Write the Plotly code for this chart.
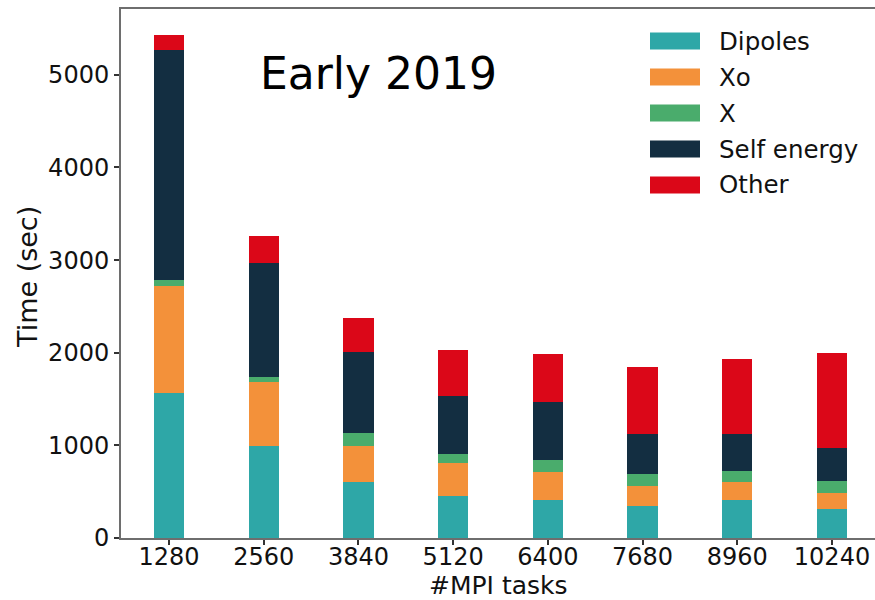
import plotly.graph_objects as go

# MPI task counts (x categories)
tasks = ["1280", "2560", "3840", "5120", "6400", "7680", "8960", "10240"]

# Time per component (sec), stacked bottom to top
dipoles = [1562, 995, 603, 453, 409, 345, 409, 312]
xo = [1164, 686, 388, 355, 302, 215, 194, 173]
x_part = [54, 54, 140, 97, 130, 130, 119, 129]
self_energy = [2489, 1239, 873, 625, 625, 431, 399, 356]
other = [162, 291, 367, 496, 517, 722, 808, 1024]

series_names = ["Dipoles", "Xo", "X", "Self energy", "Other"]
series_values = [dipoles, xo, x_part, self_energy, other]
series_colors = ["#2ea7a7", "#f3913a", "#4aac6c", "#132e41", "#db0718"]

FONT = "DejaVu Sans"
TXT = "#111111"
positions = list(range(len(tasks)))

W, H = 875, 600
L, R_EDGE, T, B_EDGE = 121, 875, 9, 538


def px_x(px):
    return (px - L) / (R_EDGE - L)


def px_y(py):
    return (B_EDGE - py) / (B_EDGE - T)


fig = go.Figure()
for name, vals, col in zip(series_names, series_values, series_colors):
    fig.add_trace(go.Bar(
        x=positions, y=vals, name=name, width=0.32,
        marker=dict(color=col, line=dict(width=0)),
        showlegend=False,
    ))

# Legend drawn as wide colour swatches with labels
leg_top, leg_step = 41, 36
for i, (name, col) in enumerate(zip(series_names, series_colors)):
    yc = leg_top + i * leg_step
    fig.add_shape(type="rect", xref="paper", yref="paper",
                  x0=px_x(650), x1=px_x(700),
                  y0=px_y(yc + 8.5), y1=px_y(yc - 8.5),
                  fillcolor=col, line=dict(width=0))
    fig.add_annotation(xref="paper", yref="paper",
                       x=px_x(717), y=px_y(yc),
                       text=name, showarrow=False, xanchor="left", yanchor="middle",
                       font=dict(family=FONT, size=24.5, color=TXT))

# In-plot title
fig.add_annotation(xref="paper", yref="paper",
                   x=px_x(378), y=px_y(73),
                   text="Early 2019", showarrow=False,
                   xanchor="center", yanchor="middle",
                   font=dict(family=FONT, size=44, color="#000000"))

# Axis titles
fig.add_annotation(xref="paper", yref="paper",
                   x=0.5, y=px_y(585),
                   text="#MPI tasks", showarrow=False,
                   xanchor="center", yanchor="middle",
                   font=dict(family=FONT, size=25, color=TXT))
fig.add_annotation(xref="paper", yref="paper",
                   x=px_x(27), y=px_y(277),
                   text="Time (sec)", showarrow=False, textangle=-90,
                   xanchor="center", yanchor="middle",
                   font=dict(family=FONT, size=27, color=TXT))

fig.update_layout(
    width=W, height=H,
    barmode="stack",
    bargap=0,
    plot_bgcolor="white",
    paper_bgcolor="white",
    margin=dict(l=L, r=W - R_EDGE, t=T, b=H - B_EDGE),
    font=dict(family=FONT, size=24, color=TXT),
)

fig.update_xaxes(
    range=[-0.507, 7.454],
    tickmode="array", tickvals=positions, ticktext=tasks,
    showgrid=False, zeroline=False,
    showline=True, linecolor="#6e6e6e", linewidth=2, mirror=True,
    ticks="outside", ticklen=5, tickwidth=1.5, tickcolor="#333333",
    tickfont=dict(family=FONT, size=24, color=TXT),
    ticklabelstandoff=-9,
)
fig.update_yaxes(
    range=[0, 5711],
    tickmode="array", tickvals=[0, 1000, 2000, 3000, 4000, 5000],
    showgrid=False, zeroline=False,
    showline=True, linecolor="#6e6e6e", linewidth=2,
    ticks="outside", ticklen=5, tickwidth=1.5, tickcolor="#333333",
    tickfont=dict(family=FONT, size=24, color=TXT),
)

fig.write_html("out.html")
